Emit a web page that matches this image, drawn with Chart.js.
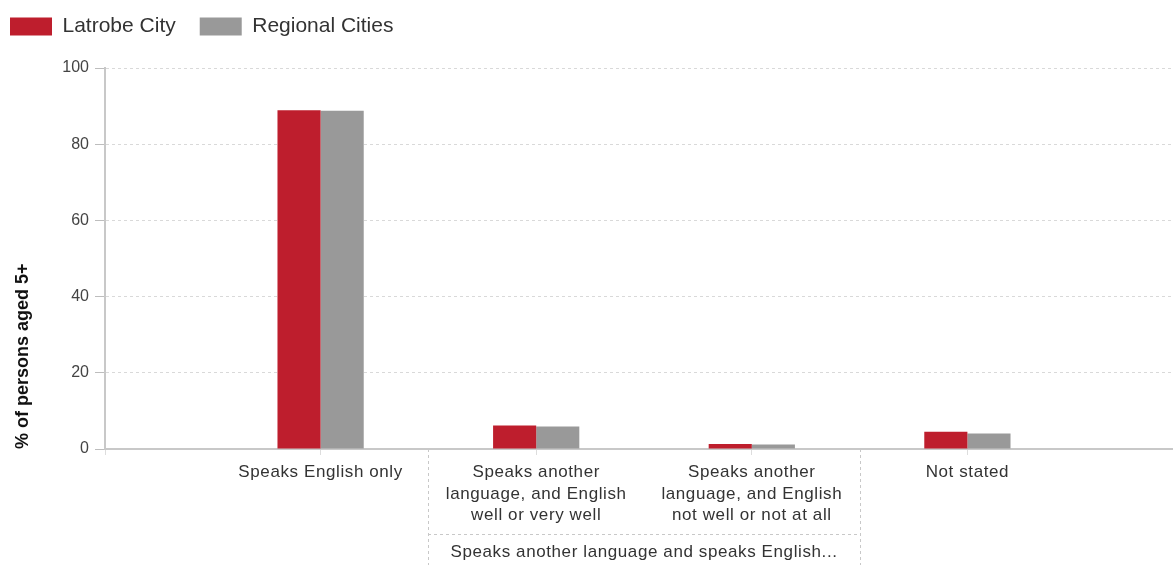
<!DOCTYPE html>
<html>
<head>
<meta charset="utf-8">
<script src="https://cdn.jsdelivr.net/npm/chart.js@4"></script>
<style>
  body { margin: 0; background: #fff; overflow: hidden; }
  #caixa { position: relative; width: 1173px; height: 565px; overflow: hidden; }
  #grafico { position: absolute; left: -14px; top: -8px; }
</style>
</head>
<body>
<div id="caixa"><canvas id="grafico" width="1204" height="573"></canvas></div>
<script>
// dados
var categorias = [
  "Speaks English only",
  ["Speaks another", "language, and English", "well or very well"],
  ["Speaks another", "language, and English", "not well or not at all"],
  "Not stated"
];
var latrobe = [88.9, 6.2, 1.3, 4.5];
var regional = [88.8, 5.9, 1.2, 4.1];
var ticksY = [0, 20, 40, 60, 80, 100];

// rótulo do grupo embaixo das categorias 2 e 3
var grupoTexto = "Speaks another language and speaks English...";
var grupoCategorias = [1, 2]; // índices em categorias

var fonte = "'Liberation Sans', Arial, sans-serif";
var espacoLetras = "0.6px";

// sobra uma posição vazia de cada lado, como no original
var rotulos = [""].concat(categorias, [""]);
function comVazios(lista) {
  return [null].concat(lista, [null]);
}

// o texto do eixo x no original é mais espaçado
var espacoPlugin = {
  id: "espaco",
  afterDatasetsDraw: function(chart) {
    chart.ctx.letterSpacing = espacoLetras;
  },
  afterDraw: function(chart) {
    chart.ctx.letterSpacing = "0px";
  }
};

// desenha as linhas tracejadas e o texto do grupo
var grupoPlugin = {
  id: "grupo",
  afterDraw: function(chart) {
    var x = chart.scales.x;
    var ctx = chart.ctx;
    var passo = x.getPixelForValue(1) - x.getPixelForValue(0);
    var x1 = Math.round(x.getPixelForValue(grupoCategorias[0] + 1) - passo / 2);
    var x2 = Math.round(x.getPixelForValue(grupoCategorias[1] + 1) + passo / 2);
    var topo = x.top;
    var fundo = chart.height;
    var linhaY = topo + 85;

    ctx.save();
    ctx.strokeStyle = "#c8c8c8";
    ctx.lineWidth = 1;
    ctx.setLineDash([3, 3]);
    ctx.beginPath();
    ctx.moveTo(x1 + 0.5, topo);
    ctx.lineTo(x1 + 0.5, fundo);
    ctx.moveTo(x2 + 0.5, topo);
    ctx.lineTo(x2 + 0.5, fundo);
    ctx.moveTo(x1, linhaY + 0.5);
    ctx.lineTo(x2, linhaY + 0.5);
    ctx.stroke();
    ctx.setLineDash([]);
    ctx.letterSpacing = espacoLetras;
    ctx.fillStyle = "#333";
    ctx.font = "17px " + fonte;
    ctx.textAlign = "center";
    ctx.textBaseline = "middle";
    ctx.fillText(grupoTexto, (x1 + x2) / 2, linhaY + 18);
    ctx.restore();
  }
};

var ctx = document.getElementById("grafico").getContext("2d");

var grafico = new Chart(ctx, {
  type: "bar",
  data: {
    labels: rotulos,
    datasets: [
      {
        label: "Latrobe City",
        data: comVazios(latrobe),
        backgroundColor: "#be1e2d",
        borderWidth: 0
      },
      {
        label: "Regional Cities",
        data: comVazios(regional),
        backgroundColor: "#999999",
        borderWidth: 0
      }
    ]
  },
  options: {
    responsive: false,
    animation: false,
    devicePixelRatio: 1,
    layout: { padding: 0 },
    datasets: {
      bar: { categoryPercentage: 0.4, barPercentage: 1 }
    },
    plugins: {
      legend: {
        position: "top",
        align: "start",
        labels: {
          boxWidth: 42,
          boxHeight: 18,
          padding: 24,
          color: "#333",
          font: { size: 21, family: fonte }
        }
      },
      subtitle: {
        display: true,
        text: "",
        position: "top",
        weight: 500,
        padding: { top: 0, bottom: 9 },
        font: { size: 10 }
      },
      tooltip: { enabled: false }
    },
    scales: {
      x: {
        offset: false,
        grid: {
          offset: false,
          drawOnChartArea: false,
          drawTicks: true,
          tickLength: 6,
          color: "#dddddd"
        },
        border: { color: "#c8c8c8", width: 2 },
        ticks: {
          z: 1,
          color: "#333",
          font: { size: 17, family: fonte, lineHeight: 1.25 },
          maxRotation: 0,
          autoSkip: false,
          padding: 7
        },
        afterFit: function(escala) {
          escala.height = 116;
        }
      },
      y: {
        min: ticksY[0],
        max: ticksY[ticksY.length - 1],
        ticks: {
          stepSize: ticksY[1] - ticksY[0],
          color: "#444",
          font: { size: 16, family: fonte },
          padding: 6
        },
        grid: {
          color: "#d9d9d9",
          tickColor: "#bdbdbd",
          tickLength: 10
        },
        border: { color: "#c8c8c8", width: 2, dash: [3, 3] },
        title: {
          display: true,
          text: "% of persons aged 5+",
          align: "start",
          color: "#111",
          font: { size: 18, weight: "bold", family: fonte },
          padding: { top: 26, bottom: 0 }
        },
        afterFit: function(escala) {
          escala.width = 119;
        }
      }
    }
  },
  plugins: [espacoPlugin, grupoPlugin]
});
</script>
</body>
</html>
